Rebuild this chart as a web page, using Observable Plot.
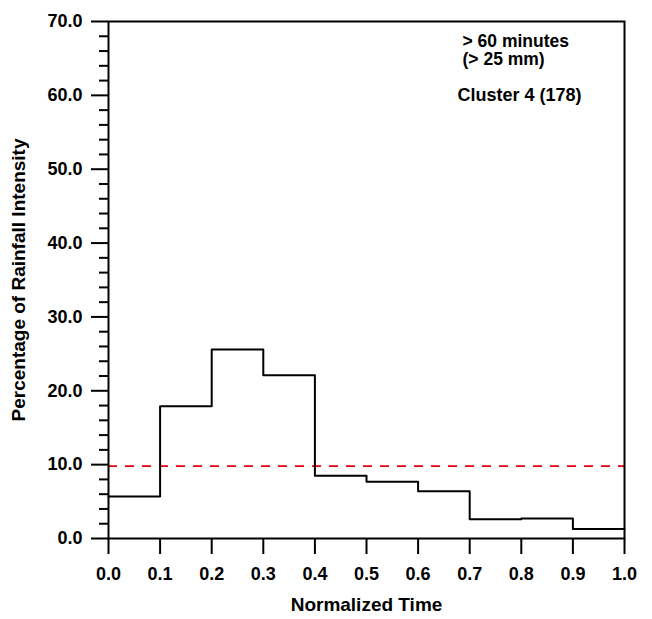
<!DOCTYPE html>
<html>
<head>
<meta charset="utf-8">
<script src="https://cdn.jsdelivr.net/npm/d3@7"></script>
<script src="https://cdn.jsdelivr.net/npm/@observablehq/plot@0.6"></script>
<style>
  html, body { margin: 0; padding: 0; background: #fff; }
  #chart svg { display: block; }
</style>
</head>
<body>
<div id="chart"></div>
<script>
// Bin starts (normalized time) and percentage of rainfall intensity
const binStart = [0.0, 0.1, 0.2, 0.3, 0.4, 0.5, 0.6, 0.7, 0.8, 0.9];
const percent  = [5.7, 17.9, 25.6, 22.1, 8.5, 7.7, 6.4, 2.6, 2.7, 1.3];
const binEnd = 1.0;
const meanLevel = 9.8;

const xTicks = [0.0, 0.1, 0.2, 0.3, 0.4, 0.5, 0.6, 0.7, 0.8, 0.9, 1.0];
const yMajor = [0, 10, 20, 30, 40, 50, 60, 70];
const yMinor = [2, 4, 6, 8, 12, 14, 16, 18, 22, 24, 26, 28, 32, 34, 36, 38, 42, 44, 46, 48, 52, 54, 56, 58, 62, 64, 66, 68];

const annotations = ["> 60 minutes", "(> 25 mm)", "Cluster 4 (178)"];
const xTitle = "Normalized Time";
const yTitle = "Percentage of Rainfall Intensity";

const steps = binStart.map((x, i) => ({x, y: percent[i]}));
steps.push({x: binEnd, y: percent[percent.length - 1]});

const font = "'Liberation Sans', Arial, Helvetica, sans-serif";
const fmt = d3.format(".1f");

const chart = Plot.plot({
  width: 652,
  height: 619,
  marginLeft: 108,
  marginRight: 28,
  marginTop: 21,
  marginBottom: 81,
  style: {fontFamily: font, background: "#fff", color: "#000"},
  x: {domain: [0, 1]},
  y: {domain: [0, 70]},
  marks: [
    Plot.ruleY([meanLevel], {stroke: "#e8000b", strokeWidth: 1.6, strokeDasharray: "9,8"}),
    Plot.line(steps, {x: "x", y: "y", curve: "step-after", stroke: "#000", strokeWidth: 2}),
    Plot.axisY(yMinor, {tickSize: 9, tickFormat: () => "", strokeWidth: 2, label: null}),
    Plot.axisY(yMajor, {tickSize: 17, tickPadding: 9, tickFormat: fmt, fontSize: 18, fontWeight: "bold", strokeWidth: 2, label: null}),
    Plot.axisX(xTicks, {tickSize: 16, tickPadding: 13, tickFormat: fmt, fontSize: 18, fontWeight: "bold", strokeWidth: 2, label: null}),
    Plot.frame({stroke: "#000", strokeWidth: 2}),
    Plot.text([xTitle], {frameAnchor: "bottom", dy: 66, fontSize: 19, fontWeight: "bold", textAnchor: "middle", lineAnchor: "middle"}),
    Plot.text([yTitle], {frameAnchor: "left", dx: -90, rotate: -90, fontSize: 19, fontWeight: "bold", textAnchor: "middle", lineAnchor: "middle"}),
    Plot.text([annotations[0]], {frameAnchor: "top-left", dx: 354, dy: 13, textAnchor: "start", lineAnchor: "top", fontSize: 17.5, fontWeight: "bold"}),
    Plot.text([annotations[1]], {frameAnchor: "top-left", dx: 354, dy: 31, textAnchor: "start", lineAnchor: "top", fontSize: 17.5, fontWeight: "bold"}),
    Plot.text([annotations[2]], {frameAnchor: "top-left", dx: 349, dy: 67, textAnchor: "start", lineAnchor: "top", fontSize: 18, fontWeight: "bold"})
  ]
});
document.getElementById("chart").appendChild(chart);
</script>
</body>
</html>
